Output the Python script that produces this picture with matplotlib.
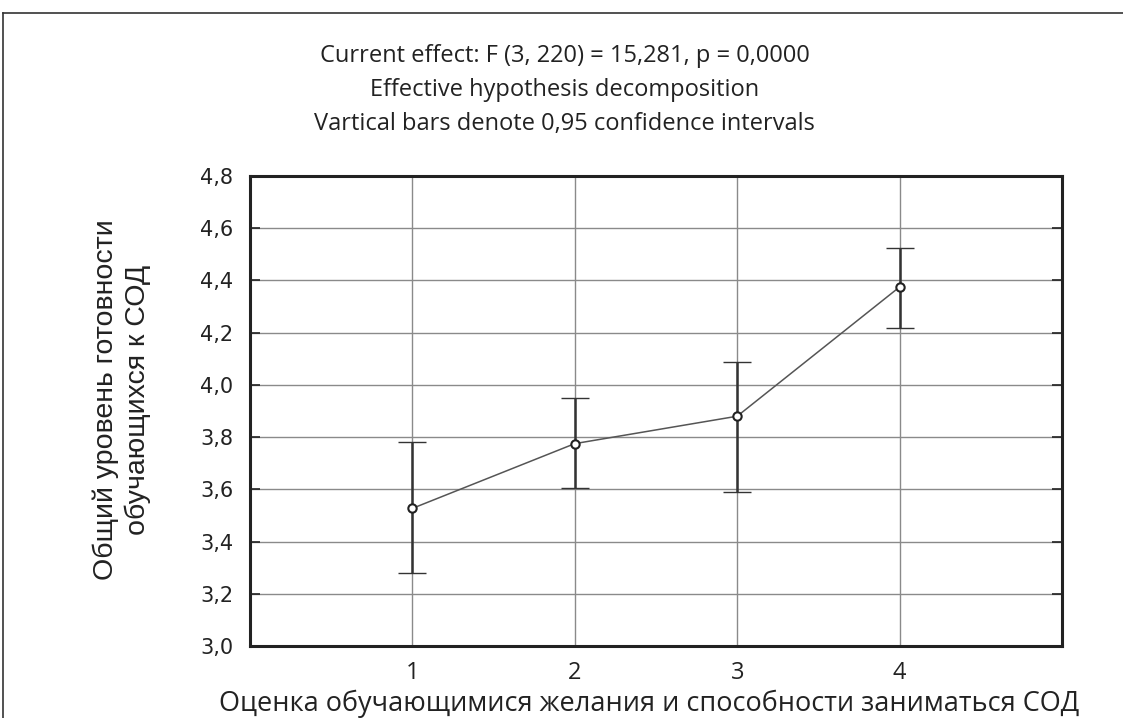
import numpy as np
import matplotlib.pyplot as plt
from matplotlib.lines import Line2D

# data
groups = [1, 2, 3, 4]
means = [3.527, 3.775, 3.880, 4.375]
ci_low = [3.280, 3.604, 3.588, 4.216]
ci_high = [3.781, 3.949, 4.086, 4.523]
y_ticks = [3.0, 3.2, 3.4, 3.6, 3.8, 4.0, 4.2, 4.4, 4.6, 4.8]
y_tick_labels = ['3,0', '3,2', '3,4', '3,6', '3,8', '4,0', '4,2', '4,4', '4,6', '4,8']

title_lines = ['Current effect: F (3, 220) = 15,281, p = 0,0000',
               'Effective hypothesis decomposition',
               'Vartical bars denote 0,95 confidence intervals']
x_label = 'Оценка обучающимися желания и способности заниматься СОД'
y_label = 'Общий уровень готовности\nобучающихся к СОД'

fig = plt.figure(figsize=(11.23, 7.18), dpi=100)
ax = fig.add_axes([0.2226, 0.1003, 0.7231, 0.6546])

means = np.array(means)
err = np.array([means - np.array(ci_low), np.array(ci_high) - means])

ax.plot(groups, means, color='#555555', lw=1.1, zorder=3)
ax.errorbar(groups, means, yerr=err, fmt='none', ecolor='#333333',
            elinewidth=1.8, capsize=10, capthick=1.0, zorder=4)
ax.plot(groups, means, 'o', ms=6, mfc='white', mec='#222222', mew=1.5, zorder=5)

ax.set_xlim(0, 5)
ax.set_ylim(3.0, 4.8)
ax.set_xticks(groups)
ax.set_xticklabels([str(g) for g in groups], fontsize=17, color='#222222',
                   family='Open Sans')
ax.set_yticks(y_ticks)
ax.set_yticklabels(y_tick_labels, fontsize=15, color='#222222', family='DejaVu Sans')
ax.tick_params(axis='x', length=0, pad=11)
ax.tick_params(axis='y', direction='in', length=7, width=1.2, color='#222222',
               right=True, pad=12)

ax.grid(True, color='#8a8a8a', lw=1.0)
ax.set_axisbelow(True)
for s in ax.spines.values():
    s.set_linewidth(2.2)
    s.set_color('#222222')

for i, line in enumerate(title_lines):
    fig.text(0.503, 1 - (56 + 34 * i) / 718, line, ha='center', va='center',
             fontsize=17, family='Open Sans', color='#222222')

fig.text(0.578, 1 - 704 / 718, x_label, ha='center', va='center',
         fontsize=19.5, family='Open Sans', color='#222222')
fig.text(0.1085, 1 - 400 / 718, y_label, ha='center', va='center', rotation=90,
         multialignment='center', fontsize=20.5, family='Liberation Sans',
         color='#222222', linespacing=1.25)

# outer frame (top and left edges)
fig.add_artist(Line2D([0.0027, 1.0], [0.982, 0.982], color='#333333', lw=1.2,
                      transform=fig.transFigure))
fig.add_artist(Line2D([0.0027, 0.0027], [0.0, 0.982], color='#333333', lw=1.2,
                      transform=fig.transFigure))

fig.savefig('out.png', dpi=100)
